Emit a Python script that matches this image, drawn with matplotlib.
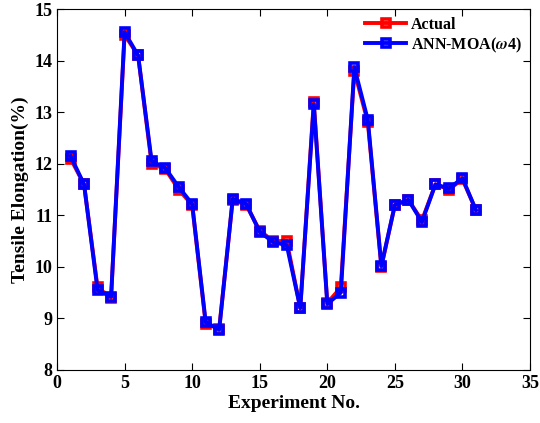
import matplotlib
matplotlib.use("Agg")
import matplotlib.pyplot as plt
import numpy as np

plt.rcParams["font.family"] = "Liberation Serif"
plt.rcParams["font.weight"] = "bold"
plt.rcParams["mathtext.fontset"] = "stix"

experiment = np.arange(1, 32)
actual = [12.1, 11.6, 9.6, 9.4, 14.5, 14.1, 12.0, 11.9, 11.5, 11.2,
          8.9, 8.8, 11.3, 11.2, 10.7, 10.5, 10.5, 9.2, 13.2, 9.3,
          9.6, 13.8, 12.8, 10.0, 11.2, 11.3, 10.9, 11.6, 11.5, 11.7, 11.1]
ann_moa = [12.15, 11.6, 9.55, 9.42, 14.55, 14.1, 12.05, 11.92, 11.55, 11.22,
           8.93, 8.78, 11.32, 11.22, 10.68, 10.48, 10.42, 9.2, 13.15, 9.28,
           9.5, 13.87, 12.85, 10.02, 11.2, 11.3, 10.87, 11.6, 11.52, 11.72, 11.1]

fig = plt.figure(figsize=(5.4, 4.23), dpi=100)
ax = fig.add_axes([0.1056, 0.1253, 0.8759, 0.8534])

ax.plot(experiment, actual, color="red", lw=2.8, marker="s", ms=6,
        mfc="none", mew=2.6, label="Actual")
ax.plot(experiment, ann_moa, color="blue", lw=2.8, marker="s", ms=6,
        mfc="none", mew=2.6, label="ANN-MOA($\\omega$4)")

ax.set_xlim(0, 35)
ax.set_ylim(8, 15)
ax.set_xticks(np.arange(0, 36, 5))
ax.set_yticks(np.arange(8, 16, 1))
ax.tick_params(direction="in", top=True, right=True, labelsize=13, length=5)
for lbl in ax.get_xticklabels() + ax.get_yticklabels():
    lbl.set_fontweight("bold")

ax.set_xlabel("Experiment No.", fontsize=14, fontweight="bold", labelpad=2)
ax.set_ylabel("Tensile Elongation(%)", fontsize=14, fontweight="bold", labelpad=4)

leg = ax.legend(loc="upper right", frameon=False, fontsize=11.5,
                handlelength=2.6, borderaxespad=0.1, labelspacing=0.15,
                handletextpad=0.3)
for t in leg.get_texts():
    t.set_fontweight("bold")

fig.savefig("out.png", dpi=100)
